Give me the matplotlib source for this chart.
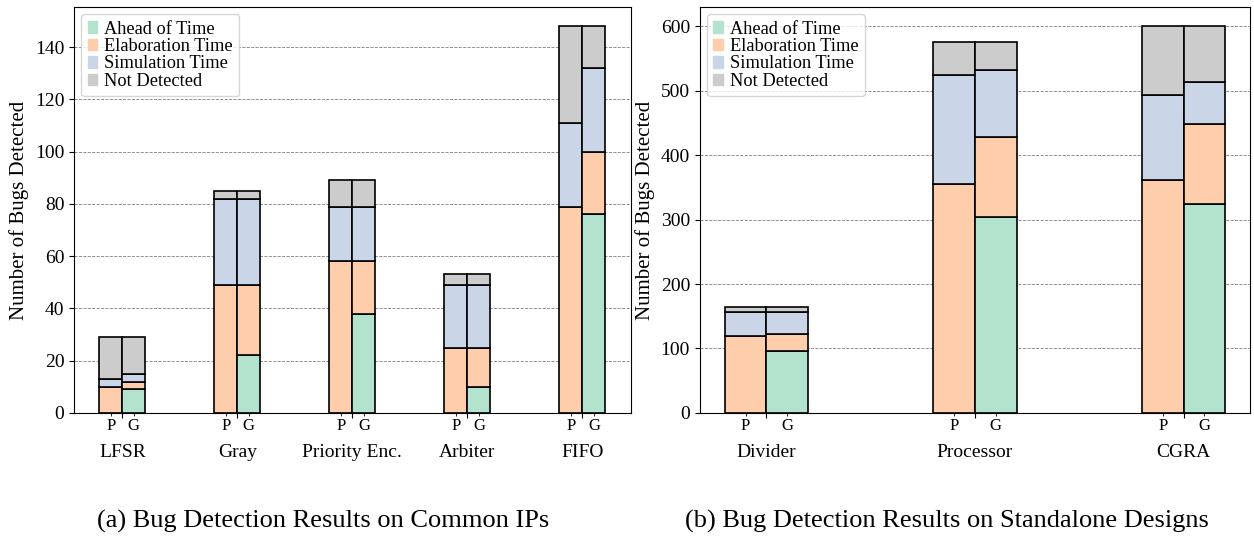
import numpy as np
import matplotlib.pyplot as plt
from matplotlib.patches import Patch

plt.rcParams['font.family'] = ['Liberation Serif', 'DejaVu Serif']

# left panel: common IPs
ip_names = ['LFSR', 'Gray', 'Priority Enc.', 'Arbiter', 'FIFO']
ip_p_ahead = [0, 0, 0, 0, 0]
ip_p_elab = [10, 49, 58, 25, 79]
ip_p_sim = [3, 33, 21, 24, 32]
ip_p_not = [16, 3, 10, 4, 37]
ip_g_ahead = [9, 22, 38, 10, 76]
ip_g_elab = [3, 27, 20, 15, 24]
ip_g_sim = [3, 33, 21, 24, 32]
ip_g_not = [14, 3, 10, 4, 16]

# right panel: standalone designs
sd_names = ['Divider', 'Processor', 'CGRA']
sd_p_ahead = [0, 0, 0]
sd_p_elab = [119, 356, 361]
sd_p_sim = [38, 169, 133]
sd_p_not = [8, 50, 106]
sd_g_ahead = [96, 304, 324]
sd_g_elab = [26, 124, 124]
sd_g_sim = [35, 104, 66]
sd_g_not = [8, 43, 86]

labels = ['Ahead of Time', 'Elaboration Time', 'Simulation Time', 'Not Detected']
colors = ['#b3e2cd', '#fdcdac', '#cbd5e8', '#cccccc']
w = 0.2


def draw(ax, names, p_parts, g_parts):
    x = np.arange(len(names))
    for off, parts in [(-w / 2, p_parts), (w / 2, g_parts)]:
        bottom = np.zeros(len(names))
        for vals, c in zip(parts, colors):
            ax.bar(x + off, vals, w, bottom=bottom, color=c,
                   edgecolor='black', linewidth=1.2, zorder=3)
            bottom += np.array(vals)
    ax.set_xticks(x, names, fontsize=14)
    ax.set_xticks(np.concatenate([x - w / 2, x + w / 2]),
                  ['P'] * len(names) + ['G'] * len(names), minor=True)
    ax.tick_params(axis='x', which='minor', labelsize=12, pad=2)
    ax.tick_params(axis='x', which='major', pad=19)
    ax.tick_params(axis='y', labelsize=14)
    ax.yaxis.grid(True, linestyle='--', color='gray', linewidth=0.6, zorder=0)
    ax.set_axisbelow(True)
    ax.set_ylabel('Number of Bugs Detected', fontsize=15)
    handles = [Patch(color=c, label=l) for c, l in zip(colors, labels)]
    ax.legend(handles=handles, loc='upper left', fontsize=13.2,
              handlelength=0.5, handleheight=0.6, handletextpad=0.4,
              labelspacing=0.02, borderpad=0.35, borderaxespad=0.4)


fig = plt.figure(figsize=(12.54, 5.39), dpi=100)
ax1 = fig.add_axes([0.059, 0.234, 0.444, 0.753])
ax2 = fig.add_axes([0.558, 0.234, 0.439, 0.753])

draw(ax1, ip_names,
     [ip_p_ahead, ip_p_elab, ip_p_sim, ip_p_not],
     [ip_g_ahead, ip_g_elab, ip_g_sim, ip_g_not])
draw(ax2, sd_names,
     [sd_p_ahead, sd_p_elab, sd_p_sim, sd_p_not],
     [sd_g_ahead, sd_g_elab, sd_g_sim, sd_g_not])

fig.text(0.258, 0.032, '(a) Bug Detection Results on Common IPs',
         ha='center', va='center', fontsize=19)
fig.text(0.755, 0.032, '(b) Bug Detection Results on Standalone Designs',
         ha='center', va='center', fontsize=19)

fig.savefig('out.png', dpi=100)
